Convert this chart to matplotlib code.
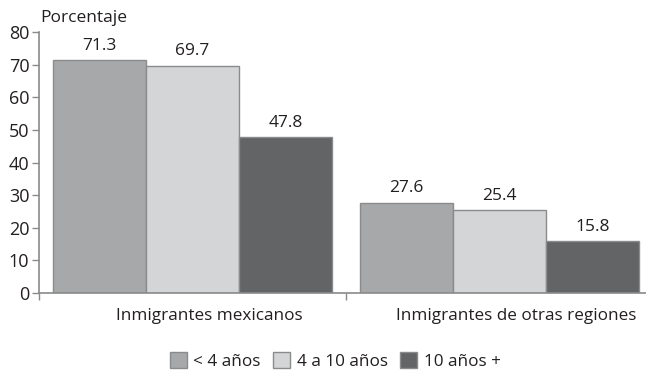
import matplotlib
matplotlib.use("Agg")
import matplotlib.pyplot as plt
import numpy as np
from matplotlib.patches import Patch

categories = ["Inmigrantes mexicanos", "Inmigrantes de otras regiones"]
series_names = ["< 4 años", "4 a 10 años", "10 años +"]
values = {
    "< 4 años": [71.3, 27.6],
    "4 a 10 años": [69.7, 25.4],
    "10 años +": [47.8, 15.8],
}
yticks = [0, 10, 20, 30, 40, 50, 60, 70, 80]

colors = ["#a7a8aa", "#d4d5d7", "#636466"]
edge = "#8a8b8d"
axis_col = "#8a8a8a"
text_col = "#231f20"

plt.rcParams["font.family"] = ["Open Sans", "DejaVu Sans"]

W, H = 646, 374
fig = plt.figure(figsize=(W / 100, H / 100), dpi=100)
ax = fig.add_axes([39 / W, 1 - 293 / H, 614 / W, (293 - 32) / H])

bw = 0.303
centers = np.arange(len(categories)) + 0.5
for i, name in enumerate(series_names):
    x = centers + (i - 1) * bw
    ax.bar(x, values[name], width=bw, color=colors[i], edgecolor=edge,
           linewidth=1.0, zorder=2)
    for xi, v in zip(x, values[name]):
        ax.text(xi, v + 2.0, f"{v:.1f}", ha="center", va="bottom",
                fontsize=12.5, color=text_col)

ax.set_xlim(0, 2)
ax.set_ylim(0, 80)
ax.set_yticks(yticks)
ax.set_yticklabels([str(t) for t in yticks], fontsize=13, color=text_col)
ax.set_xticks([0, 1, 2])
ax.set_xticklabels([])
ax.tick_params(axis="y", direction="out", length=5, color=axis_col, width=1, pad=2)
ax.tick_params(axis="x", direction="out", length=5, color=axis_col, width=1)
# category names sit a little right of the group centres
for c, lab in zip(centers, categories):
    ax.text(c + 0.055, -4.6, lab, ha="center", va="top", fontsize=12.3, color=text_col)

for s in ["top", "right"]:
    ax.spines[s].set_visible(False)
for s in ["left", "bottom"]:
    ax.spines[s].set_color(axis_col)
    ax.spines[s].set_linewidth(1.2)

fig.text(40 / W, 1 - 18 / H, "Porcentaje", ha="left", va="center",
         fontsize=12.5, color=text_col)

handles = [Patch(facecolor=colors[i], edgecolor=edge, linewidth=1.0)
           for i in range(3)]
fig.legend(handles, series_names, loc="center", bbox_to_anchor=(335 / W, 1 - 361 / H),
           ncol=3, frameon=False, fontsize=12.3, handlelength=1.0, handleheight=1.0,
           handletextpad=0.4, columnspacing=0.7, labelcolor=text_col)

fig.savefig("out.png", dpi=100)
